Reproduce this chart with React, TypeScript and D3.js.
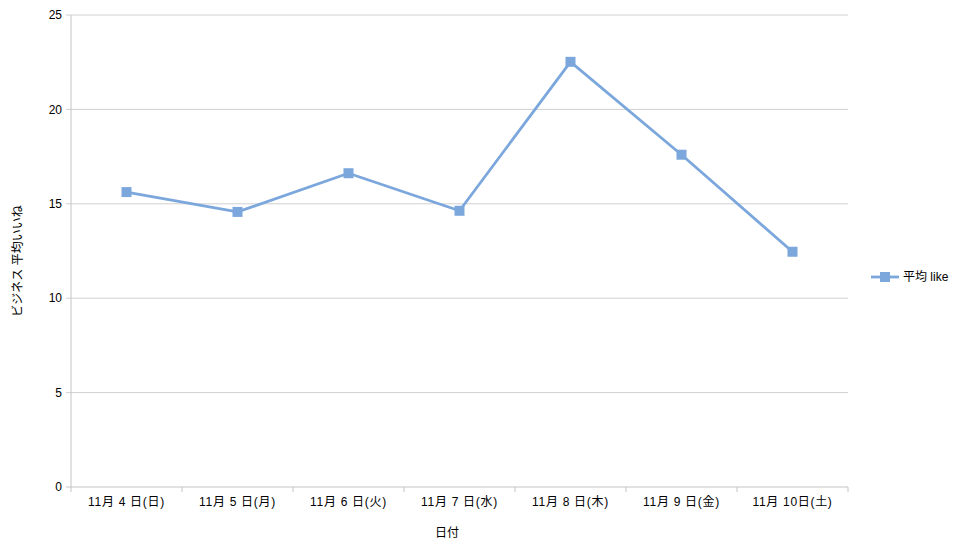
import React from "react";
import * as d3 from "d3";

const categories = ["11月 4 日(日)", "11月 5 日(月)", "11月 6 日(火)", "11月 7 日(水)", "11月 8 日(木)", "11月 9 日(金)", "11月 10日(土)"];
const values = [15.62, 14.57, 16.62, 14.63, 22.52, 17.6, 12.46];
const yTicks = [0, 5, 10, 15, 20, 25];
const seriesName = "平均 like";
const yTitle = "ビジネス 平均いいね";
const xTitle = "日付";

const W = 956, H = 550;
const left = 71, right = 848, top = 15, bottom = 487;
const color = "#7ba7dc";
const font = "'Liberation Sans', Arial, 'Noto Sans CJK JP', sans-serif";

export default function App() {
  const x = d3.scaleBand<string>().domain(categories).range([left, right]);
  const y = d3.scaleLinear().domain([0, 25]).range([bottom, top]);
  const line = d3.line<number>()
    .x((_, i) => (x(categories[i]) as number) + x.bandwidth() / 2)
    .y((d) => y(d));
  const boundaries = d3.range(categories.length + 1).map((i) => left + i * x.step());
  return (
    <div style={{ position: "absolute", left: 0, top: 0 }}>
      <svg width={W} height={H} style={{ display: "block", fontFamily: font }}>
        <rect width={W} height={H} fill="#fff" />
        {yTicks.map((t) => (
          <g key={t}>
            <line x1={left - 5} x2={right} y1={y(t)} y2={y(t)} stroke={t === 0 ? "#c4c4c4" : "#d0d0d0"} strokeWidth={1} />
            <text x={left - 9} y={y(t)} dy="0.35em" textAnchor="end" fontSize={12} fill="#000">{t}</text>
          </g>
        ))}
        <line x1={left} x2={left} y1={top} y2={bottom} stroke="#c4c4c4" strokeWidth={1} />
        {boundaries.map((b, i) => (
          <line key={i} x1={b} x2={b} y1={bottom} y2={bottom + 5} stroke="#c4c4c4" strokeWidth={1} />
        ))}
        {categories.map((c) => (
          <text key={c} x={(x(c) as number) + x.bandwidth() / 2} y={bottom + 19} textAnchor="middle" fontSize={12} letterSpacing={0.7} fill="#000">{c}</text>
        ))}
        <path d={line(values) || ""} fill="none" stroke={color} strokeWidth={2.8} strokeLinejoin="round" />
        {values.map((v, i) => (
          <rect key={i} x={(x(categories[i]) as number) + x.bandwidth() / 2 - 5} y={y(v) - 5} width={10} height={10} fill={color} />
        ))}
        <text transform={`translate(22,261) rotate(-90)`} textAnchor="middle" fontSize={12} fill="#000">{yTitle}</text>
        <text x={447} y={537} textAnchor="middle" fontSize={12} fill="#000">{xTitle}</text>
        <line x1={871} x2={899} y1={277} y2={277} stroke={color} strokeWidth={2.8} />
        <rect x={880} y={272} width={10} height={10} fill={color} />
        <text x={903} y={277} dy="0.35em" fontSize={12} fill="#000">{seriesName}</text>
      </svg>
    </div>
  );
}
